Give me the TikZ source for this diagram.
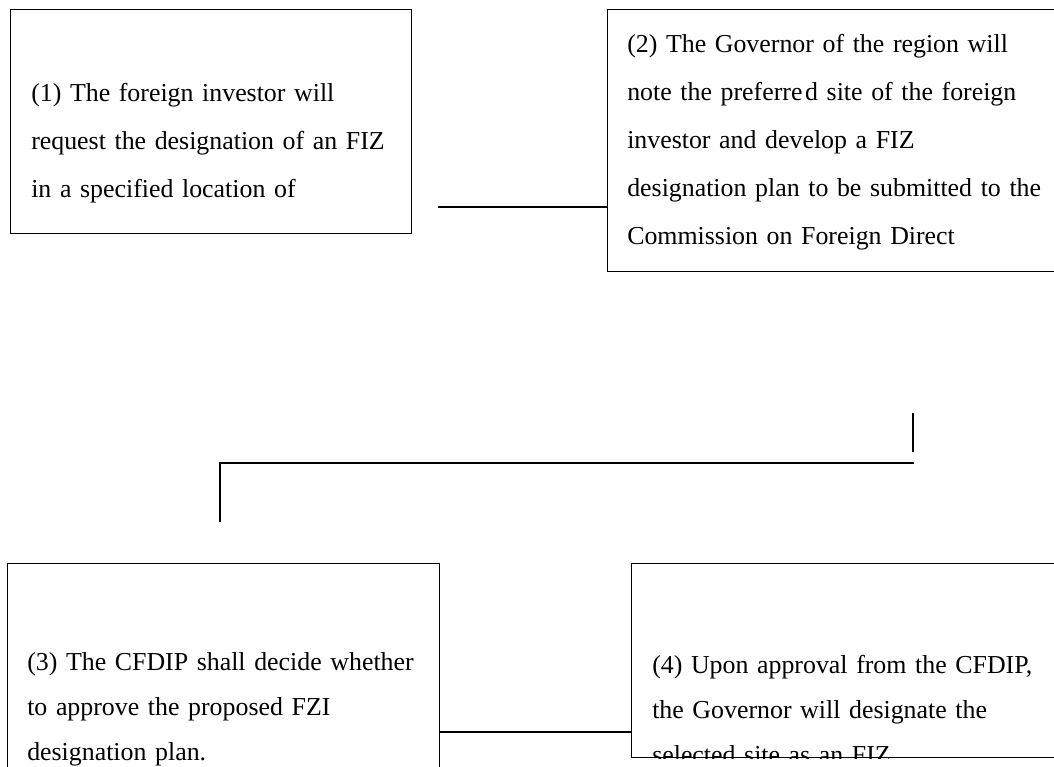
\documentclass[tikz,border=0pt]{standalone}
\usepackage{fontspec}
\setmainfont{Liberation Serif}

\tikzset{
  caja/.style={draw, line width=1.1pt, anchor=north west, inner sep=0pt},
  texto/.style={anchor=base west, inner sep=0pt, text width=330pt, align=left,
    font=\fontsize{19.4}{36}\selectfont},
  textobajo/.style={texto, font=\fontsize{19.4}{33.75}\selectfont},
  linea/.style={line width=1.1pt},
}

\begin{document}
\begin{tikzpicture}[x=0.75pt, y=-0.75pt]

        \useasboundingbox (0,0) rectangle (1054,767);
        \clip (0,0) rectangle (1054,767);

        % Cajas de arriba
        \node[caja, minimum width=401*0.75pt, minimum height=224*0.75pt] (caja1) at (10,9) {};
        \node[caja, minimum width=460*0.75pt, minimum height=262*0.75pt] (caja2) at (607,9) {};
        \node[texto] (txt1) at (31,102) {(1) The foreign investor will\\
          request the designation of an FIZ\\
          in a specified location of};
        \node[texto] (txt2) at (627,53) {(2) The Governor of the region will\\
          note the preferre\kern2pt d site of the foreign\\
          investor and develop a FIZ\\
          designation plan to be submitted to the\\
          Commission on Foreign Direct};

        % linea 1 -> 2
        \coordinate (ini12) at (438,207);
        \draw[linea] (ini12) -- (caja2.west |- ini12);

        % codo 2 -> 3
        \coordinate (cortoA) at (913,413);
        \coordinate (cortoB) at (913,452);
        \coordinate (codoD) at (914,463);
        \coordinate (codoI) at (220,463);
        \coordinate (codoF) at (220,522);
        \draw[linea] (cortoA) -- (cortoB);
        \draw[linea] (codoD) -- (codoI) -- (codoF);

        % Cajas de abajo
        \node[caja, minimum width=432*0.75pt, minimum height=240*0.75pt] (caja3) at (7,563) {};
        \node[caja, minimum width=450*0.75pt, minimum height=194*0.75pt] (caja4) at (631,563) {};
        \node[textobajo] (txt3) at (27,670) {(3) The CFDIP shall decide whether\\
          to approve the proposed FZI\\
          designation plan.};
        \begin{scope}
          \clip (caja4.north west) rectangle (caja4.south east);
          \node[textobajo] (txt4) at (652,673) {(4) Upon approval from the CFDIP,\\
            the Governor will designate the\\
            selected site as an FIZ};
        \end{scope}

        % linea 3 -> 4
        \coordinate (lin34) at (0,732);
        \draw[linea] (caja3.east |- lin34) -- (caja4.west |- lin34);

    \end{tikzpicture}
\end{document}
